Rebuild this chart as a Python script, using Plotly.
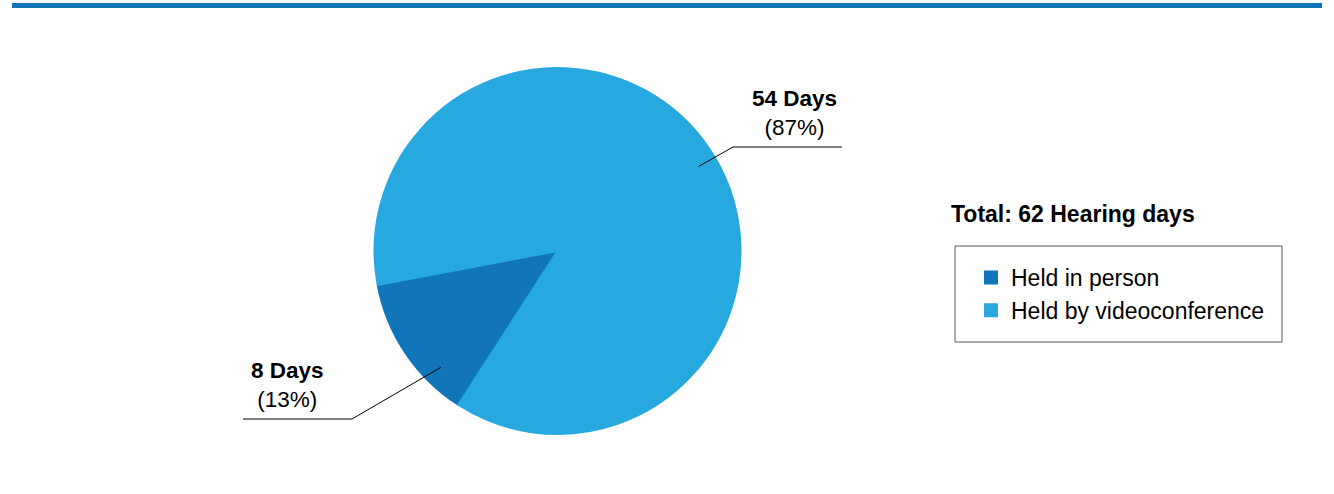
import math
import plotly.graph_objects as go

# data
categories = ["Held in person", "Held by videoconference"]
days = [8, 54]
colors = ["#1175BA", "#27A9E0"]

W, H = 1334, 494


def px(x):
    return x / W


def py(y):
    return 1 - y / H


# pie geometry (pixels)
cx, cy, R = 557.5, 251, 183
rotation = 212.85  # clockwise from 12 o'clock
total = sum(days)
pcts = [round(100 * d / total) for d in days]

fig = go.Figure(go.Pie(
    labels=categories,
    values=days,
    sort=False,
    direction="clockwise",
    rotation=rotation,
    textinfo="none",
    hoverinfo="label+value+percent",
    marker=dict(colors=colors, line=dict(color=colors, width=2)),
    domain=dict(x=[px(cx - R), px(cx + R)], y=[py(cy + R), py(cy - R)]),
))

# label / leader line styling
angle_shift = [11, -3]
elbows = [(352, 419), (733, 147)]
line_ends = [243, 842]
text_x = [287, 795]

shapes = [dict(type="line", xref="paper", yref="paper",
               x0=px(12), x1=px(1322), y0=py(5.5), y1=py(5.5),
               line=dict(color="#1274B9", width=5))]
annotations = []

start = 90 - rotation
cum = 0
for i, d in enumerate(days):
    mid = start - 360 * (cum + d / 2) / total + angle_shift[i]
    cum += d
    sx = cx + 0.9 * R * math.cos(math.radians(mid))
    sy = cy - 0.9 * R * math.sin(math.radians(mid))
    ex, ey = elbows[i]
    path = f"M {px(sx)},{py(sy)} L {px(ex)},{py(ey)} L {px(line_ends[i])},{py(ey)}"
    shapes.append(dict(type="path", xref="paper", yref="paper", path=path,
                       line=dict(color="#000000", width=1)))
    annotations.append(dict(
        xref="paper", yref="paper", x=px(text_x[i]), y=py(ey - 34),
        xanchor="center", yanchor="middle", showarrow=False,
        text=f"<b>{d} Days</b><br>({pcts[i]}%)",
        font=dict(size=22.5, color="#000000"),
    ))

annotations.append(dict(
    xref="paper", yref="paper", x=px(949), y=py(214),
    xanchor="left", yanchor="middle", showarrow=False,
    text=f"<b>Total: {total} Hearing days</b>",
    font=dict(size=23, color="#000000"),
))

shapes.append(dict(type="rect", xref="paper", yref="paper",
                   x0=px(955), x1=px(1282), y0=py(342), y1=py(246),
                   line=dict(color="#595959", width=1)))

fig.update_layout(
    width=W, height=H,
    margin=dict(l=0, r=0, t=0, b=0),
    paper_bgcolor="white",
    font=dict(family="Liberation Sans, Arial, sans-serif", color="#000000"),
    shapes=shapes,
    annotations=annotations,
    showlegend=True,
    legend=dict(
        x=px(971), y=py(256), xanchor="left", yanchor="top",
        font=dict(size=23, color="#000000"),
        bgcolor="rgba(0,0,0,0)", borderwidth=0,
        tracegroupgap=0,
    ),
)

fig.write_html("out.html", config={"displayModeBar": False},
               post_script="document.body.style.margin='0';")
